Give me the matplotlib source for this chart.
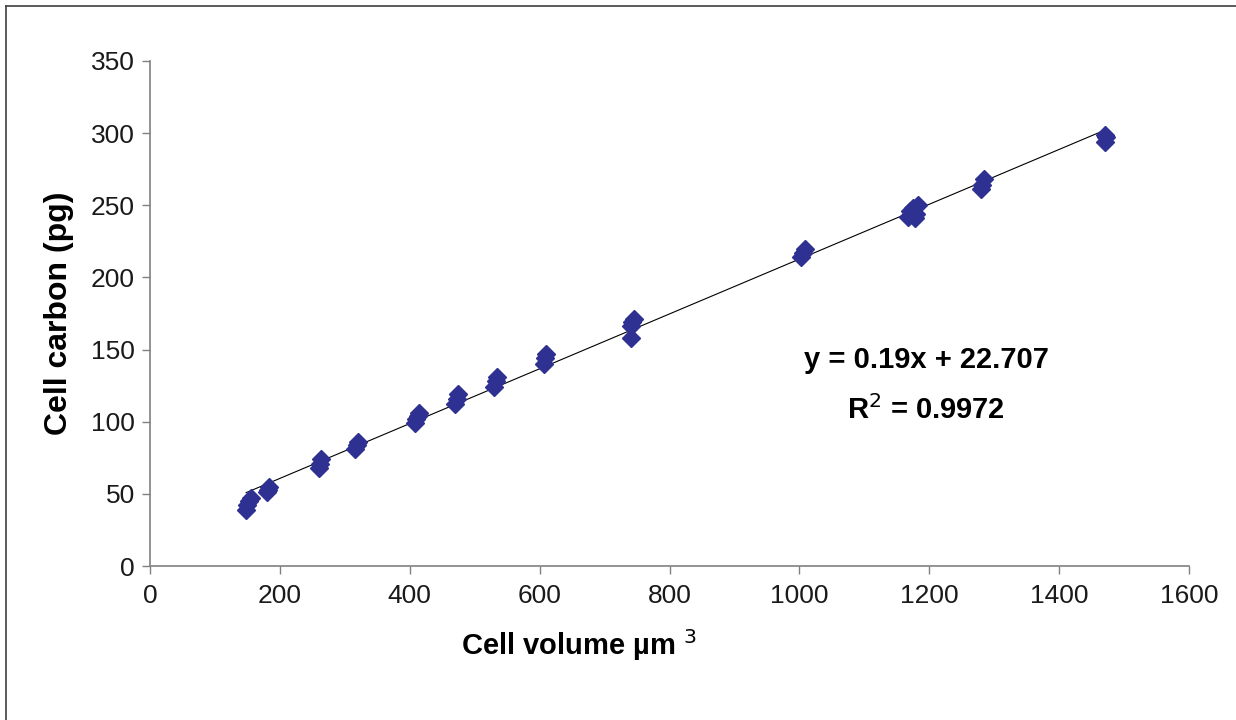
import matplotlib
matplotlib.use("Agg")
import matplotlib.pyplot as plt
from matplotlib.lines import Line2D

plt.rcParams['font.family'] = ['Liberation Sans', 'DejaVu Sans']

# data
cell_volume = [148, 150, 152, 155, 180, 182, 184, 260, 262, 264, 316, 318, 320,
               408, 410, 412, 414, 470, 472, 474, 530, 533, 535, 606, 608, 610,
               740, 742, 745, 740, 1003, 1005, 1008,
               1168, 1170, 1175, 1180, 1183, 1178, 1280, 1282, 1284, 1470, 1472, 1470]
cell_carbon = [39, 42, 45, 47, 51, 53, 55, 68, 71, 74, 81, 84, 86,
               99, 102, 104, 106, 112, 116, 119, 124, 128, 131, 140, 144, 147,
               166, 169, 171, 158, 214, 217, 220,
               242, 246, 248, 244, 250, 241, 261, 264, 268, 294, 297, 299]
slope = 0.19
intercept = 22.707
r_squared = 0.9972
x_ticks = [0, 200, 400, 600, 800, 1000, 1200, 1400, 1600]
y_ticks = [0, 50, 100, 150, 200, 250, 300, 350]

fig = plt.figure(figsize=(12.36, 7.2), dpi=100)
ax = fig.add_axes([150/1236, 154/720, 1039/1236, 505/720])

ax.plot(cell_volume, cell_carbon, linestyle='none', marker='D', markersize=9.5,
        color='#2E3192', markeredgecolor='#2E3192', zorder=3)
xl = [min(cell_volume), max(cell_volume)]
ax.plot(xl, [slope * v + intercept for v in xl], color='black', linewidth=0.8, zorder=2)

ax.set_xlim(0, 1600)
ax.set_ylim(0, 350)
ax.set_xticks(x_ticks)
ax.set_yticks(y_ticks)
ax.tick_params(axis='both', labelsize=19, direction='out', length=6, width=1,
               color='#808080', labelcolor='#1a1a1a')
ax.tick_params(axis='x', pad=7)
ax.tick_params(axis='y', pad=5)
for s in ['top', 'right']:
    ax.spines[s].set_visible(False)
for s in ['left', 'bottom']:
    ax.spines[s].set_color('#808080')
    ax.spines[s].set_linewidth(1.2)

ax.set_xlabel(r'Cell volume µm $^{3}$', fontsize=21, fontweight='bold', labelpad=14, x=0.413)
ax.set_ylabel('Cell carbon (pg)', fontsize=23, fontweight='bold', labelpad=12)

ax.text(1195, 143, f'y = {slope}x + {intercept}', fontsize=21, fontweight='bold',
        ha='center', va='center')
ax.text(1195, 108, f'R$^2$ = {r_squared}', fontsize=21, fontweight='bold',
        ha='center', va='center')

fig.add_artist(Line2D([6/1236, 6/1236], [0, 1 - 6/720], transform=fig.transFigure,
                      color='#404040', linewidth=1.2))
fig.add_artist(Line2D([6/1236, 1], [1 - 6/720, 1 - 6/720], transform=fig.transFigure,
                      color='#404040', linewidth=1.2))

fig.savefig('out.png', dpi=100)
